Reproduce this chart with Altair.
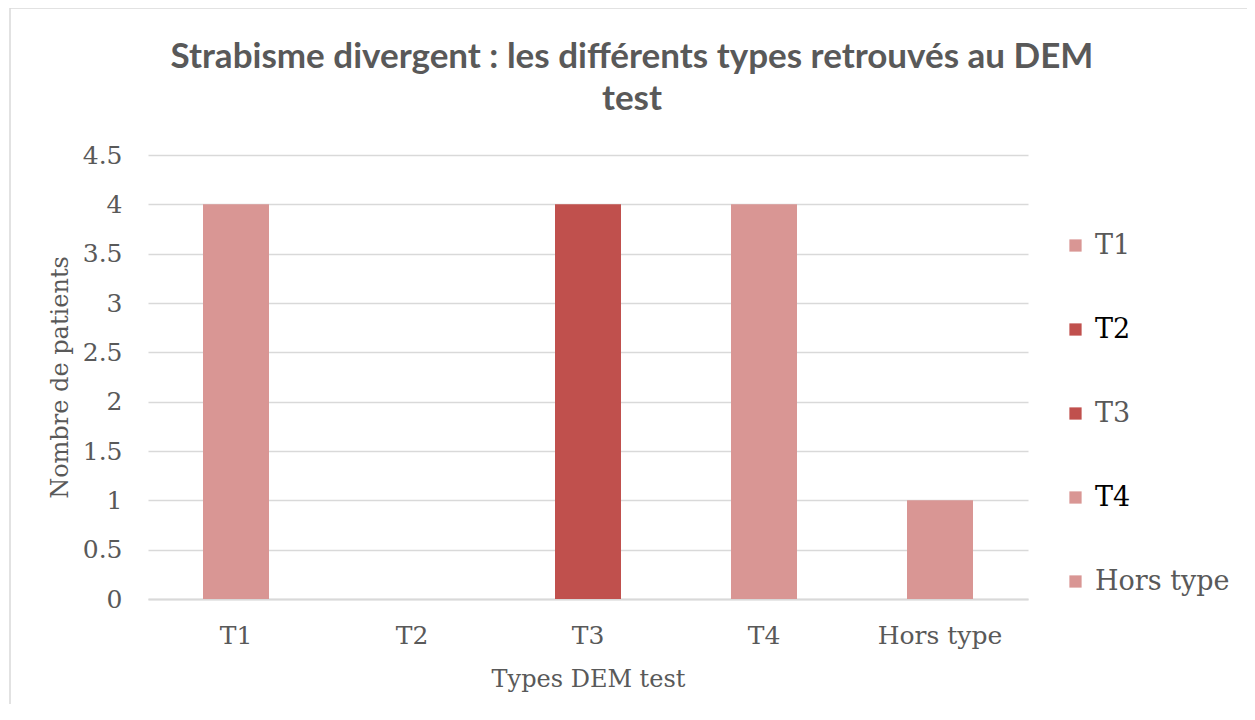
import altair as alt
import pandas as pd

categories = ["T1", "T2", "T3", "T4", "Hors type"]
values = [4, 0, 4, 4, 1]
colors = ["#D99694", "#C0504D", "#C0504D", "#D99694", "#D99694"]
title_lines = ["Strabisme divergent : les différents types retrouvés au DEM", "test"]

df = pd.DataFrame({"type": categories, "patients": values})

bars = alt.Chart(df).mark_bar(size=66).encode(
    x=alt.X("type:N", sort=categories,
            scale=alt.Scale(paddingInner=0.625, paddingOuter=0.3125),
            axis=alt.Axis(title="Types DEM test", labelAngle=0, ticks=False,
                          labelPadding=24, titlePadding=19,
                          domainColor="#D9D9D9", domainWidth=2,
                          labelFontSize=25, titleFontSize=24, grid=False)),
    y=alt.Y("patients:Q", scale=alt.Scale(domain=[0, 4.5]),
            axis=alt.Axis(title="Nombre de patients", values=[0, 0.5, 1, 1.5, 2, 2.5, 3, 3.5, 4, 4.5],
                          format="~g", ticks=False, domain=False, labelPadding=26,
                          gridColor="#D9D9D9", gridWidth=1.5, labelFontSize=25,
                          titleFontSize=24, titleX=-76, titleY=222, titleBaseline="bottom")),
    color=alt.Color("type:N", sort=categories,
                    scale=alt.Scale(domain=categories, range=colors),
                    legend=alt.Legend(title=None, orient="none", legendX=914, legendY=77,
                                      symbolType="square", symbolSize=150,
                                      labelFontSize=27, rowPadding=56,
                                      labelOffset=6,
                                      labelColor={"expr": "datum.value == 'T2' || datum.value == 'T4' ? '#000000' : '#595959'"})),
)

border = alt.Chart(pd.DataFrame({"a": [0]})).mark_rect(
    fill="transparent", stroke="#D9D9D9", strokeWidth=1.5
).encode(
    x=alt.value(-138), x2=alt.value(1100), y=alt.value(-147), y2=alt.value(557)
)

title_df = pd.DataFrame({"line": title_lines, "row": [0, 1]})
title = alt.Chart(title_df).mark_text(
    font="Lato", fontSize=35, fontWeight="bold", color="#595959",
    align="center", baseline="middle"
).encode(
    text="line:N",
    x=alt.value(484),
    y=alt.Y("row:Q", scale=alt.Scale(domain=[0, 1], range=[-98, -56]), axis=None),
)

chart = alt.layer(border, bars, title).resolve_scale(y="independent").properties(
    width=880, height=444,
    autosize=alt.AutoSizeParams(type="none"),
    padding={"left": 140, "top": 147, "right": 219, "bottom": 105},
).configure_axis(
    labelColor="#595959", titleColor="#595959", titleFontWeight="normal",
    labelFont="DejaVu Serif", titleFont="DejaVu Serif"
).configure_legend(
    labelFont="DejaVu Serif"
).configure_view(stroke=None)

chart.save("out.html", embed_options={"renderer": "svg", "actions": False})
